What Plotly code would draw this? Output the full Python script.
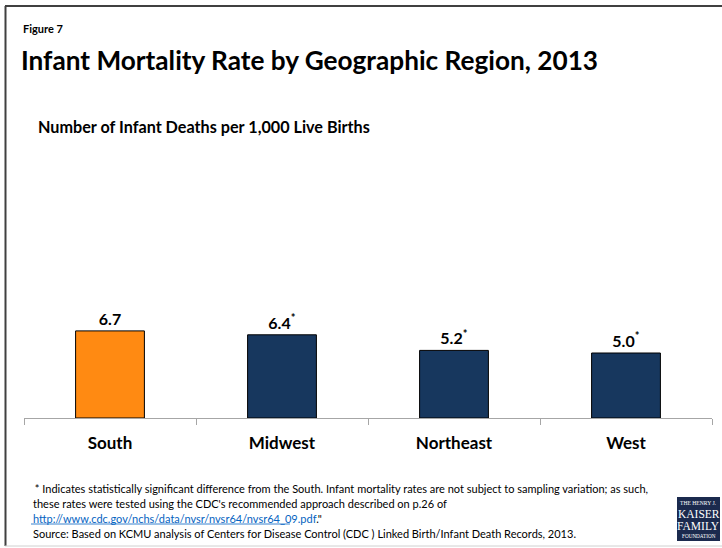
import plotly.graph_objects as go

# ---- data ----
regions = ["South", "Midwest", "Northeast", "West"]
rates = [6.7, 6.4, 5.2, 5.0]
significant = [False, True, True, True]
bar_colors = ["#FF8A12", "#17375E", "#17375E", "#17375E"]

title_small = "Figure 7"
title_main = "Infant Mortality Rate by Geographic Region, 2013"
subtitle = "Number of Infant Deaths per 1,000 Live Births"
note1 = " * Indicates statistically significant difference from the South. Infant mortality rates are not subject to sampling variation; as such,"
note2 = "these rates were tested using the CDC's recommended approach described on p.26 of"
note_url = "http://www.cdc.gov/nchs/data/nvsr/nvsr64/nvsr64_09.pdf"
note4 = "Source: Based on KCMU analysis of Centers for Disease Control (CDC ) Linked Birth/Infant Death Records, 2013."

W, H = 722, 548
FONT = "Lato"

def px(x):
    return x / W

def py(y):
    return 1 - y / H

labels = [f"{v:.1f}" + ("<sup>*</sup>" if s else "") for v, s in zip(rates, significant)]

fig = go.Figure()
fig.add_trace(go.Bar(
    x=regions, y=rates,
    marker=dict(color=bar_colors, line=dict(color="#000000", width=1)),
    width=0.4,
    text=labels, textposition="outside", cliponaxis=False,
    textfont=dict(family=FONT, size=16, color="#000000", weight="bold"),
    hoverinfo="skip",
))

fig.update_layout(
    width=W, height=H,
    margin=dict(l=0, r=0, t=0, b=0),
    paper_bgcolor="white", plot_bgcolor="white",
    showlegend=False,
    font=dict(family=FONT, color="#000000"),
    xaxis=dict(
        domain=[px(24), px(712)],
        range=[-0.5, 3.5],
        showline=True, linecolor="#A6A6A6", linewidth=1,
        ticks="outside", tickson="boundaries", ticklen=6, tickcolor="#A6A6A6",
        ticklabelstandoff=10,
        tickfont=dict(family=FONT, size=17, color="#000000", weight="bold"),
        showgrid=False, zeroline=False, fixedrange=True,
    ),
    yaxis=dict(
        domain=[py(418), py(150)],
        range=[0, 268 / 13],
        visible=False, showgrid=False, zeroline=False, fixedrange=True,
    ),
)

# frame
fig.add_shape(type="line", xref="paper", yref="paper", x0=px(5.5), x1=px(5.5), y0=py(6), y1=py(546),
              line=dict(color="#404040", width=2))
fig.add_shape(type="line", xref="paper", yref="paper", x0=px(5), x1=1, y0=py(6), y1=py(6),
              line=dict(color="#404040", width=2))
fig.add_shape(type="line", xref="paper", yref="paper", x0=px(5), x1=1, y0=py(546), y1=py(546),
              line=dict(color="#D0D0D0", width=1))

def ann(text, x, y, size, bold=False, color="#000000", family=FONT, xanchor="left", yanchor="middle"):
    fig.add_annotation(text=text, xref="paper", yref="paper", x=px(x), y=py(y),
                       xanchor=xanchor, yanchor=yanchor, showarrow=False,
                       font=dict(family=family, size=size, color=color, weight="bold" if bold else "normal"))

ann(title_small, 21, 28, 11, bold=True)
ann(title_main, 19, 60, 26.2, bold=True)
ann(subtitle, 36, 127, 16.2, bold=True)

NS = 11.0
ann(note1, 30, 488, NS)
ann(note2, 31, 503, NS)
ann(f"<a href='{note_url}' style='color:#0563C1'>{note_url}</a><span style='color:#000000'>.\"</span>", 31, 518, NS, color="#0563C1")
fig.add_shape(type="line", xref="paper", yref="paper", x0=px(31), x1=px(290), y0=py(524), y1=py(524),
              line=dict(color="#0563C1", width=0.8))
ann(note4, 31, 533, NS)

# logo
fig.add_shape(type="rect", xref="paper", yref="paper", x0=px(677), x1=px(720), y0=py(497), y1=py(541),
              fillcolor="#1B2A4E", line=dict(width=0))
SERIF = "Liberation Serif"
cx = 698.5
ann("THE HENRY J.", cx, 503, 5.6, color="white", family=SERIF, xanchor="center")
ann("KAISER", cx, 514, 11.5, color="white", family=SERIF, xanchor="center")
ann("FAMILY", cx, 525.5, 11.5, color="white", family=SERIF, xanchor="center")
ann("FOUNDATION", cx, 536, 5.2, color="white", family=SERIF, xanchor="center")

fig.write_html("out.html", config={"displayModeBar": False},
               post_script="document.body.style.margin='0';document.body.style.overflow='hidden';")
